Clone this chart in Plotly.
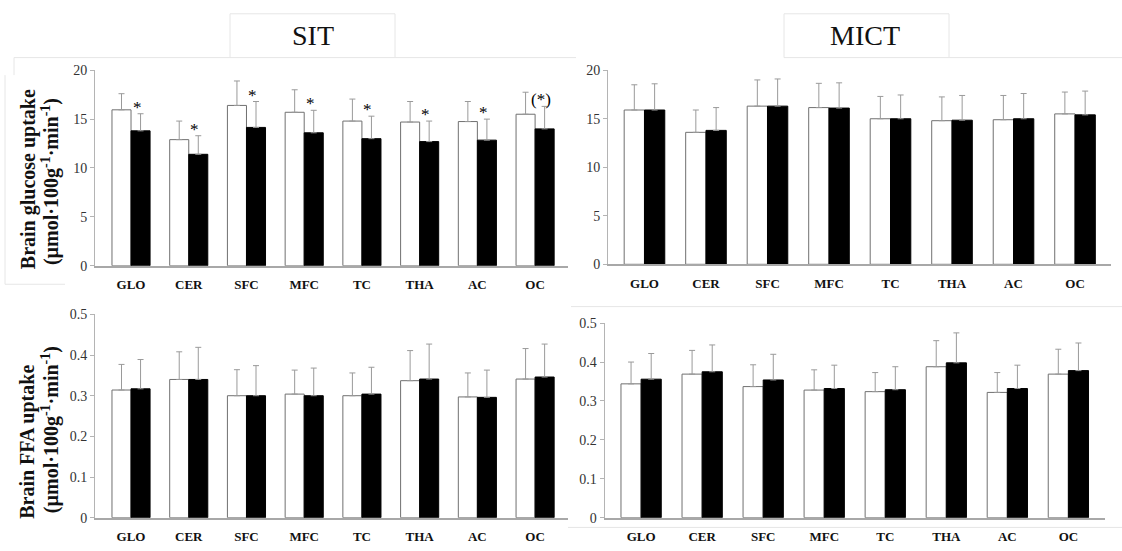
import plotly.graph_objects as go

regions = ["GLO", "CER", "SFC", "MFC", "TC", "THA", "AC", "OC"]

# SIT – brain glucose uptake (white = pre, black = post)
sit_glu_pre = [15.95, 12.9, 16.4, 15.7, 14.8, 14.7, 14.75, 15.5]
sit_glu_pre_sd = [1.65, 1.9, 2.5, 2.3, 2.25, 2.1, 2.05, 2.25]
sit_glu_post = [13.8, 11.4, 14.15, 13.6, 13.0, 12.7, 12.85, 14.0]
sit_glu_post_sd = [1.75, 1.9, 2.65, 2.3, 2.3, 2.1, 2.15, 2.3]
sit_glu_sig = ["*", "*", "*", "*", "*", "*", "*", "(*)"]

# MICT – brain glucose uptake
mict_glu_pre = [15.9, 13.6, 16.3, 16.15, 15.0, 14.8, 14.9, 15.5]
mict_glu_pre_sd = [2.6, 2.3, 2.7, 2.5, 2.3, 2.45, 2.5, 2.25]
mict_glu_post = [15.9, 13.8, 16.3, 16.1, 15.0, 14.85, 15.0, 15.4]
mict_glu_post_sd = [2.7, 2.35, 2.8, 2.6, 2.45, 2.55, 2.6, 2.45]

# SIT – brain FFA uptake
sit_ffa_pre = [0.314, 0.340, 0.300, 0.304, 0.300, 0.337, 0.297, 0.341]
sit_ffa_pre_sd = [0.063, 0.068, 0.064, 0.059, 0.056, 0.074, 0.059, 0.075]
sit_ffa_post = [0.317, 0.340, 0.300, 0.300, 0.304, 0.341, 0.296, 0.346]
sit_ffa_post_sd = [0.072, 0.079, 0.074, 0.068, 0.066, 0.086, 0.067, 0.081]

# MICT – brain FFA uptake
mict_ffa_pre = [0.344, 0.369, 0.337, 0.328, 0.324, 0.388, 0.322, 0.369]
mict_ffa_pre_sd = [0.056, 0.061, 0.056, 0.052, 0.049, 0.067, 0.051, 0.064]
mict_ffa_post = [0.356, 0.375, 0.354, 0.332, 0.329, 0.398, 0.332, 0.378]
mict_ffa_post_sd = [0.066, 0.069, 0.066, 0.060, 0.059, 0.077, 0.060, 0.071]

glu_ticks = [0, 5, 10, 15, 20]
glu_ticktext = ["0", "5", "10", "15", "20"]
ffa_ticks = [0, 0.1, 0.2, 0.3, 0.4, 0.5]
ffa_ticktext = ["0", "0.1", "0.2", "0.3", "0.4", "0.5"]

W, H = 1122, 551
SERIF = "Liberation Serif"

fig = go.Figure()

panels = [
    ("x", "y", sit_glu_pre, sit_glu_pre_sd, sit_glu_post, sit_glu_post_sd),
    ("x2", "y2", mict_glu_pre, mict_glu_pre_sd, mict_glu_post, mict_glu_post_sd),
    ("x3", "y3", sit_ffa_pre, sit_ffa_pre_sd, sit_ffa_post, sit_ffa_post_sd),
    ("x4", "y4", mict_ffa_pre, mict_ffa_pre_sd, mict_ffa_post, mict_ffa_post_sd),
]

for xa, ya, pre, pre_sd, post, post_sd in panels:
    fig.add_trace(go.Bar(
        x=regions, y=pre, xaxis=xa, yaxis=ya, offsetgroup="pre",
        marker=dict(color="white", line=dict(color="#707070", width=1)),
        error_y=dict(type="data", symmetric=False, array=pre_sd,
                     arrayminus=[0] * len(pre), color="#9a9a9a",
                     thickness=1, width=3),
        showlegend=False, hoverinfo="skip"))
    fig.add_trace(go.Bar(
        x=regions, y=post, xaxis=xa, yaxis=ya, offsetgroup="post",
        marker=dict(color="black", line=dict(color="black", width=1)),
        error_y=dict(type="data", symmetric=False, array=post_sd,
                     arrayminus=[0] * len(post), color="#9a9a9a",
                     thickness=1, width=3),
        showlegend=False, hoverinfo="skip"))


def px_x(p):
    return p / W


def px_y(p):
    return 1 - p / H


xcommon = dict(
    type="category", showline=True, linecolor="#a8a8a8", linewidth=2,
    ticks="outside", ticklen=6, tickcolor="rgba(0,0,0,0)",
    tickfont=dict(family=SERIF, size=13, color="#111", weight=700),
    showgrid=False, zeroline=False, fixedrange=True,
)
ycommon = dict(
    showline=True, linecolor="#b4b4b4", linewidth=1,
    ticks="outside", ticklen=4, tickcolor="#b4b4b4",
    tickfont=dict(family=SERIF, size=14, color="#333"),
    showgrid=False, zeroline=False, fixedrange=True,
)

fig.update_layout(
    width=W, height=H,
    margin=dict(l=0, r=0, t=0, b=0),
    paper_bgcolor="white", plot_bgcolor="white",
    barmode="group", bargap=0.34, bargroupgap=0,
    xaxis=dict(xcommon, domain=[px_x(95), px_x(568)], range=[-0.624, 7.57], anchor="y"),
    yaxis=dict(ycommon, domain=[px_y(266), px_y(65)], range=[0, 20],
               tickvals=glu_ticks, ticktext=glu_ticktext, anchor="x"),
    xaxis2=dict(xcommon, domain=[px_x(608), px_x(1111)], range=[-0.593, 7.585], anchor="y2"),
    yaxis2=dict(ycommon, domain=[px_y(264.5), px_y(65)], range=[0, 20],
                tickvals=glu_ticks, ticktext=glu_ticktext, anchor="x2"),
    xaxis3=dict(xcommon, domain=[px_x(95), px_x(568)], range=[-0.624, 7.57], anchor="y3"),
    yaxis3=dict(ycommon, domain=[px_y(525), px_y(316)], range=[0, 0.5],
                tickvals=ffa_ticks, ticktext=ffa_ticktext, anchor="x3"),
    xaxis4=dict(xcommon, domain=[px_x(604.5), px_x(1105)], range=[-0.6, 7.6], anchor="y4"),
    yaxis4=dict(ycommon, domain=[px_y(525), px_y(325)], range=[0, 0.5],
                tickvals=ffa_ticks, ticktext=ffa_ticktext, anchor="x4"),
)

annotations = []
# significance marks above the post (black) bars in SIT glucose panel
for r, v, sd, s in zip(regions, sit_glu_post, sit_glu_post_sd, sit_glu_sig):
    annotations.append(dict(
        x=r, y=v + sd, xref="x", yref="y", text=s, showarrow=False,
        xanchor="center", yanchor="bottom", xshift=6, yshift=-5,
        font=dict(family=SERIF, size=17, color="#000")))

# panel titles
annotations.append(dict(x=px_x(313), y=px_y(29), xref="paper", yref="paper",
                        text="SIT", showarrow=False, xanchor="center", yanchor="middle",
                        font=dict(family=SERIF, size=28, color="#111")))
annotations.append(dict(x=px_x(865), y=px_y(29), xref="paper", yref="paper",
                        text="MICT", showarrow=False, xanchor="center", yanchor="middle",
                        font=dict(family=SERIF, size=28, color="#111")))

# y-axis titles
unit = "(µmol·100g<sup>-1</sup>·min<sup>-1</sup>)"
for txt, xc, yc in [("Brain glucose uptake", 28, 177), (unit, 50, 180),
                    ("Brain FFA uptake", 28, 447), (unit, 50, 435)]:
    annotations.append(dict(x=px_x(xc), y=px_y(yc), xref="paper", yref="paper",
                            text=txt, showarrow=False, textangle=-90,
                            xanchor="center", yanchor="middle",
                            font=dict(family=SERIF, size=20, color="#111", weight=700)))

fig.update_layout(annotations=annotations)

# faint frame lines from the source layout
faint = "#e6e6e6"
shapes = []
for x0, y0, x1, y1 in [(230, 7, 395, 52), (784, 7, 949, 52)]:
    shapes.append(dict(type="rect", xref="paper", yref="paper",
                       x0=px_x(x0), y0=px_y(y0), x1=px_x(x1), y1=px_y(y1),
                       line=dict(color=faint, width=1), fillcolor="rgba(0,0,0,0)", layer="below"))
for x0, y0, x1, y1 in [(14, 52, 230, 52), (395, 52, 576, 52), (949, 52, 1122, 52),
                       (14, 52, 14, 70), (5, 70, 5, 285), (5, 285, 65, 285),
                       (571, 308, 1122, 308), (568, 535, 1122, 535)]:
    shapes.append(dict(type="line", xref="paper", yref="paper",
                       x0=px_x(x0), y0=px_y(y0), x1=px_x(x1), y1=px_y(y1),
                       line=dict(color=faint, width=1), layer="below"))
fig.update_layout(shapes=shapes)

fig.write_html(
    "out.html",
    config={"displayModeBar": False, "staticPlot": False},
    post_script="document.body.style.margin='0';document.body.style.padding='0';"
                "document.body.style.overflow='hidden';",
)
